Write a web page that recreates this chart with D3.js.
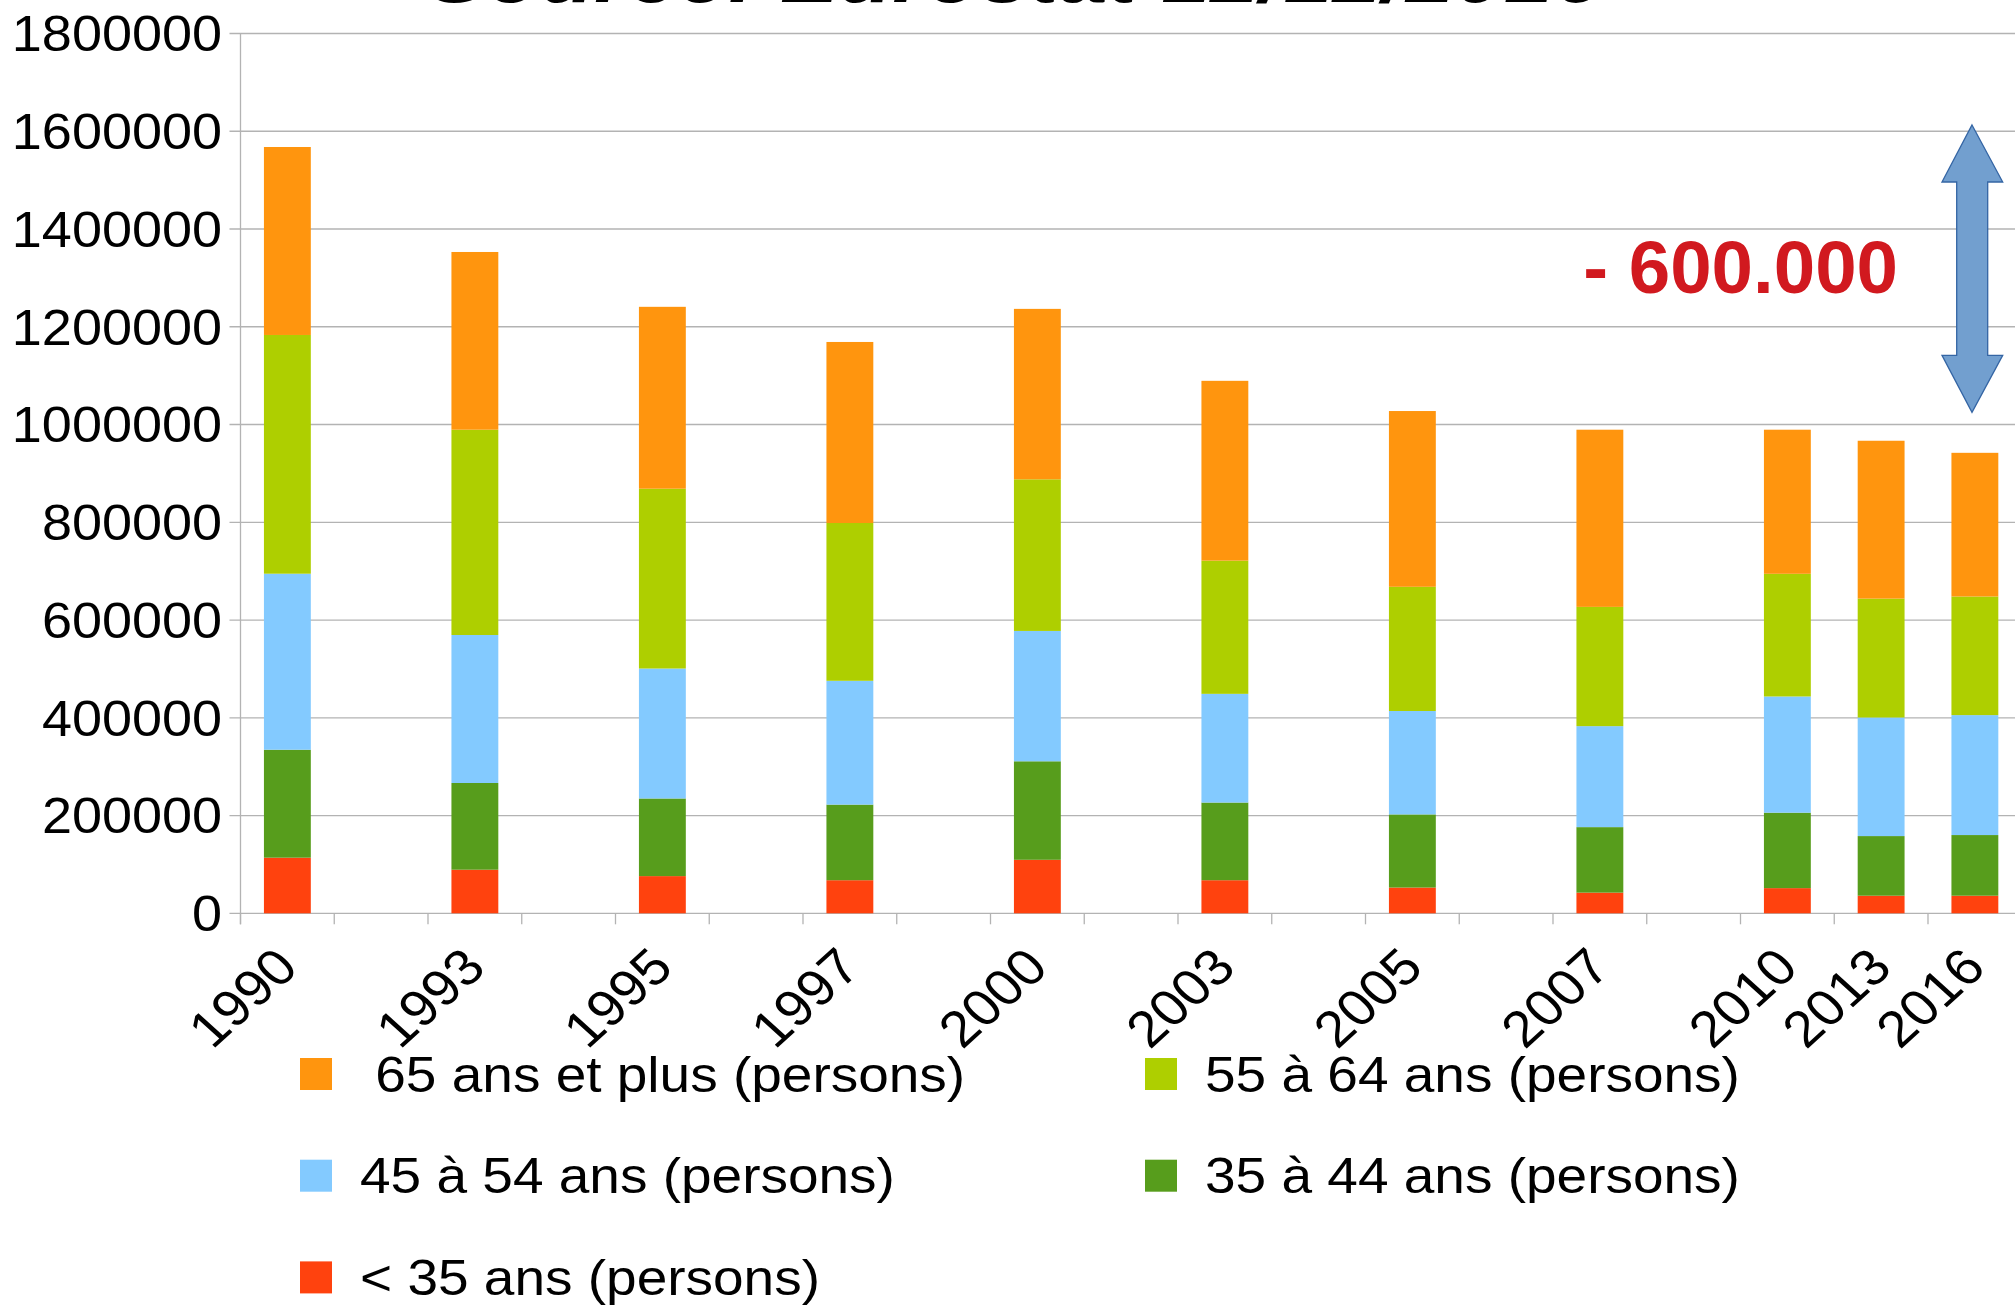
<!DOCTYPE html>
<html>
<head>
<meta charset="utf-8">
<script src="https://cdn.jsdelivr.net/npm/d3@7"></script>
<style>
    body { margin: 0; background: #ffffff; }
    text { font-family: "Liberation Sans", Arial, sans-serif; }
</style>
</head>
<body>
<div id="chart"></div>
<script>
//Chart data (gaps between survey years are empty categories)
var years = ["1990", "", "1993", "", "1995", "", "1997", "", "2000", "", "2003", "", "2005", "", "2007", "", "2010", "2013", "2016"];

var under35 = [113800, null, 89200, null, 76100, null, 67700, null, 109500, null, 67700, null, 52700, null, 42300, null, 51500, 36000, 36000];
var age35to44 = [220900, null, 177400, null, 158800, null, 154700, null, 201500, null, 158900, null, 149600, null, 134000, null, 154400, 122000, 124100];
var age45to54 = [360100, null, 302800, null, 265900, null, 253300, null, 266700, null, 222400, null, 211600, null, 206600, null, 237700, 242600, 245400];
var age55to64 = [488400, null, 420000, null, 367900, null, 322800, null, 310200, null, 272500, null, 254100, null, 244000, null, 251000, 243200, 242600];
var age65plus = [384600, null, 363600, null, 372100, null, 370400, null, 348700, null, 367900, null, 359600, null, 362500, null, 294800, 323000, 294000];

var seriesNames = ["< 35 ans (persons)", "35 à 44 ans (persons)", "45 à 54 ans (persons)", "55 à 64 ans (persons)", " 65 ans et plus (persons)"];
var seriesColors = ["#ff420e", "#579d1c", "#83caff", "#aecf00", "#ff950e"];
var yTicks = [0, 200000, 400000, 600000, 800000, 1000000, 1200000, 1400000, 1600000, 1800000];

var titleText = "Source: Eurostat 12/12/2016";
var noteText = "- 600.000";

//Create SVG dimensions
var svgWidth = 2015;
var svgHeight = 1306;
var stretch = 1.1;

var plot = {
    left: 240.5,
    top: 33.5,
    bottom: 913.3,
    step: 93.75
};

var svg = d3.select("#chart")
    .append("svg")
    .attr("width", svgWidth)
    .attr("height", svgHeight)
    .style("display", "block");

svg.append("rect")
    .attr("width", svgWidth)
    .attr("height", svgHeight)
    .attr("fill", "#ffffff");

//Build stacked table
var keys = ["u35", "a35", "a45", "a55", "a65"];
var rows = years.map(function(y, i) {
    return {
        idx: i,
        year: y,
        u35: under35[i] || 0,
        a35: age35to44[i] || 0,
        a45: age45to54[i] || 0,
        a55: age55to64[i] || 0,
        a65: age65plus[i] || 0
    };
});
var stacked = d3.stack().keys(keys)(rows);

//Scales
var xScale = d3.scaleBand()
    .domain(d3.range(years.length))
    .range([plot.left, plot.left + years.length * plot.step])
    .paddingInner(0.5)
    .paddingOuter(0.25);

var yScale = d3.scaleLinear()
    .domain([0, 1800000])
    .range([plot.bottom, plot.top]);

//Gridlines
svg.append("g")
    .selectAll("line")
    .data(yTicks)
    .enter()
    .append("line")
    .attr("x1", plot.left - 11)
    .attr("x2", svgWidth)
    .attr("y1", d => yScale(d))
    .attr("y2", d => yScale(d))
    .attr("stroke", "#b3b3b3")
    .attr("stroke-width", 1.3);

//Y axis line
svg.append("line")
    .attr("x1", plot.left)
    .attr("x2", plot.left)
    .attr("y1", plot.top)
    .attr("y2", plot.bottom + 11)
    .attr("stroke", "#b3b3b3")
    .attr("stroke-width", 1.3);

//X ticks at category boundaries
var boundaries = d3.range(years.length + 1).map(i => plot.left + i * xScale.step());
svg.append("g")
    .selectAll("line")
    .data(boundaries)
    .enter()
    .append("line")
    .attr("x1", d => d)
    .attr("x2", d => d)
    .attr("y1", plot.bottom)
    .attr("y2", plot.bottom + 11)
    .attr("stroke", "#b3b3b3")
    .attr("stroke-width", 1.3);

//Stacked bars
svg.append("g")
    .selectAll("g")
    .data(stacked)
    .enter()
    .append("g")
    .attr("fill", (d, i) => seriesColors[i])
    .selectAll("rect")
    .data(d => d.filter(p => p.data.year !== ""))
    .enter()
    .append("rect")
    .attr("x", d => xScale(d.data.idx))
    .attr("width", xScale.bandwidth())
    .attr("y", d => yScale(d[1]))
    .attr("height", d => yScale(d[0]) - yScale(d[1]));

//Y labels
svg.append("g")
    .selectAll("g")
    .data(yTicks)
    .enter()
    .append("g")
    .attr("transform", d => `translate(222, ${yScale(d) + 17.9}) scale(1.08, 1)`)
    .append("text")
    .attr("text-anchor", "end")
    .attr("font-size", 50)
    .attr("fill", "#000")
    .text(d => d);

//X labels, rotated
svg.append("g")
    .selectAll("g")
    .data(rows.filter(r => r.year !== ""))
    .enter()
    .append("g")
    .attr("transform", d => `translate(${xScale(d.idx) + xScale.bandwidth() / 2 + 13}, 970) scale(${stretch}, 1) rotate(-45)`)
    .append("text")
    .attr("text-anchor", "end")
    .attr("font-size", 51)
    .attr("fill", "#000")
    .text(d => d.year);

//Legend
var legendOrder = [4, 3, 2, 1, 0];
var legend = svg.append("g")
    .selectAll("g")
    .data(legendOrder)
    .enter()
    .append("g")
    .attr("transform", (d, i) => `translate(${i % 2 === 0 ? 300 : 1145}, ${1058 + Math.floor(i / 2) * 101.7})`);

legend.append("rect")
    .attr("width", 32)
    .attr("height", 32)
    .attr("fill", d => seriesColors[d]);

legend.append("g")
    .attr("transform", `translate(60, 33.5) scale(${stretch}, 1)`)
    .append("text")
    .attr("font-size", 50)
    .attr("fill", "#000")
    .style("white-space", "pre")
    .text(d => seriesNames[d]);

//Title (cut off at the top of the picture, as in the original)
svg.append("g")
    .attr("transform", `translate(1015, 2) scale(${stretch}, 1)`)
    .append("text")
    .attr("text-anchor", "middle")
    .attr("font-size", 80)
    .attr("font-weight", "bold")
    .attr("font-style", "italic")
    .attr("fill", "#000")
    .text(titleText);

//Annotation: red note and double arrow
svg.append("text")
    .attr("x", 1898)
    .attr("y", 293)
    .attr("text-anchor", "end")
    .attr("font-size", 74.5)
    .attr("font-weight", "bold")
    .attr("fill", "#d1191f")
    .text(noteText);

var arrowPts = [
    [1972, 125], [2002.7, 182], [1987.7, 182], [1987.7, 355.3], [2002.7, 355.3],
    [1972, 412.3], [1942, 355.3], [1956.7, 355.3], [1956.7, 182], [1942, 182]
];
svg.append("polygon")
    .attr("points", arrowPts.map(p => p.join(",")).join(" "))
    .attr("fill", "#729fcf")
    .attr("stroke", "#3465a4")
    .attr("stroke-width", 1.3);
</script>
</body>
</html>
